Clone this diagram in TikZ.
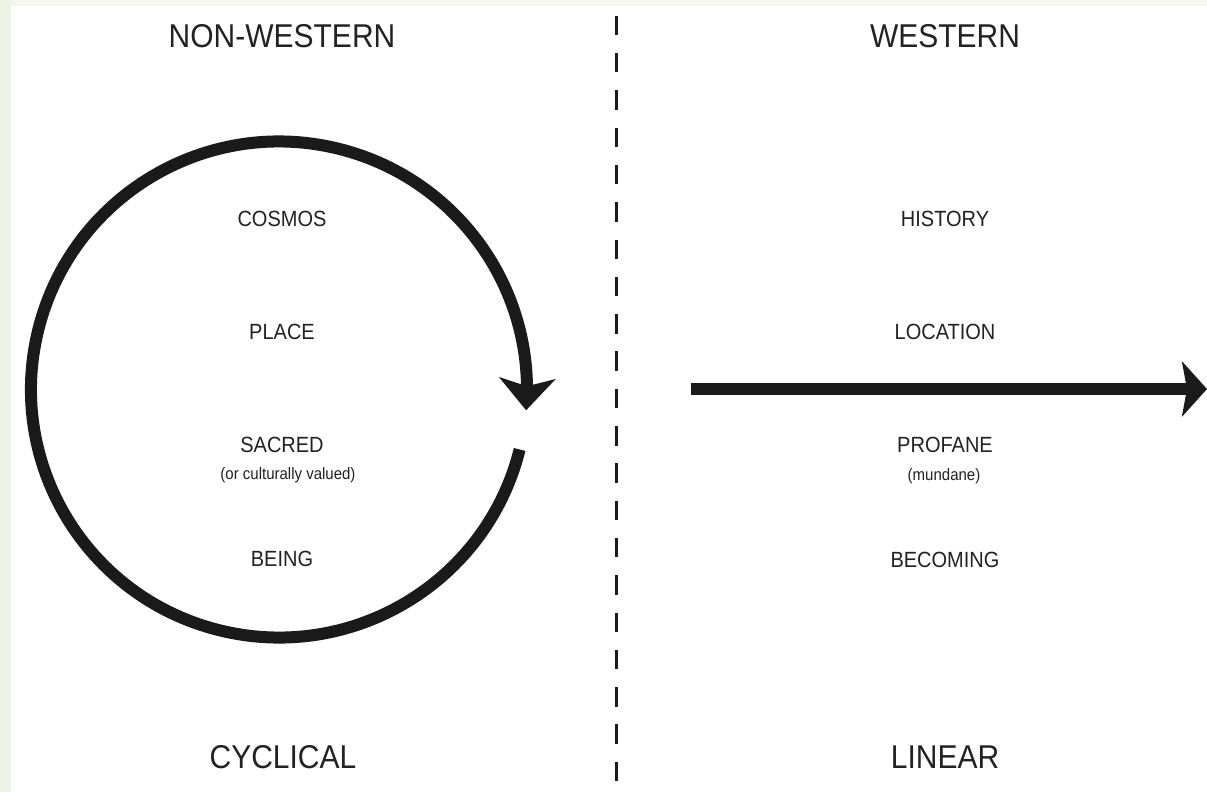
\documentclass[tikz,border=0pt]{standalone}
\usepackage{fontspec}
\setmainfont{Liberation Sans}
\usetikzlibrary{arrows.meta,bending}
\definecolor{bggreen}{HTML}{EEF3E3}
\definecolor{bgtop}{HTML}{F4F7EE}
\definecolor{ink}{HTML}{1A1A1A}
\definecolor{txt}{HTML}{222222}
\tikzset{
  title/.style={text=txt,inner sep=0pt,font=\fontsize{30}{32}\selectfont},
  label/.style={text=txt,inner sep=0pt,font=\fontsize{20}{22}\selectfont},
  sublabel/.style={text=txt,inner sep=0pt,font=\fontsize{15}{17}\selectfont},
  thick line/.style={draw=ink,line width=12pt},
  divider/.style={draw=ink,line width=3pt,dash pattern=on 19.5pt off 17.8pt}
}
\newcommand{\tall}[1]{\scalebox{1}[1.1]{#1}}
\begin{document}
\begin{tikzpicture}[x=1pt,y=-1pt]
\useasboundingbox (0,0) rectangle (1207,792);
\fill[bgtop] (0,0) rectangle (1207,6);
\fill[bggreen] (0,0) rectangle (11,792);
\fill[white] (11,6) rectangle (1207,792);

% divider
\coordinate (dtop) at (616,15.7);
\coordinate (dbot) at (616,781.2);
\draw[divider] (dtop) -- (dbot);

% headings
\node[title] (nonwestern) at (282,36) {\tall{NON-WESTERN}};
\node[title] (western) at (945,36) {\tall{WESTERN}};
\node[title] (cyclical) at (283,757) {\tall{CYCLICAL}};
\node[title] (linear) at (945,757) {\tall{LINEAR}};

% left labels
\node[label] (cosmos) at (282,219) {\tall{COSMOS}};
\node[label] (place) at (282,332) {\tall{PLACE}};
\node[label] (sacred) at (282,445) {\tall{SACRED}};
\node[sublabel] (sacredsub) at (288,475) {\tall{(or culturally valued)}};
\node[label] (being) at (282,559) {\tall{BEING}};

% right labels
\node[label] (history) at (945,219) {\tall{HISTORY}};
\node[label] (location) at (945,332) {\tall{LOCATION}};
\node[label] (profane) at (945,445) {\tall{PROFANE}};
\node[sublabel] (profanesub) at (944,476) {\tall{(mundane)}};
\node[label] (becoming) at (945,560) {\tall{BECOMING}};

% cyclical arrow
\coordinate (cc) at (279,389.5);
\draw[thick line,-{Stealth[length=32pt,width=56pt,inset=8pt,flex]}]
  ([shift={(14:248)}]cc) arc[start angle=14,end angle=364.8,radius=248];

% linear arrow
\coordinate (ls) at (691,389);
\coordinate (le) at (1207,389);
\draw[thick line,-{Stealth[length=25pt,width=55pt,inset=5pt]}] (ls) -- (le);
\end{tikzpicture}
\end{document}
